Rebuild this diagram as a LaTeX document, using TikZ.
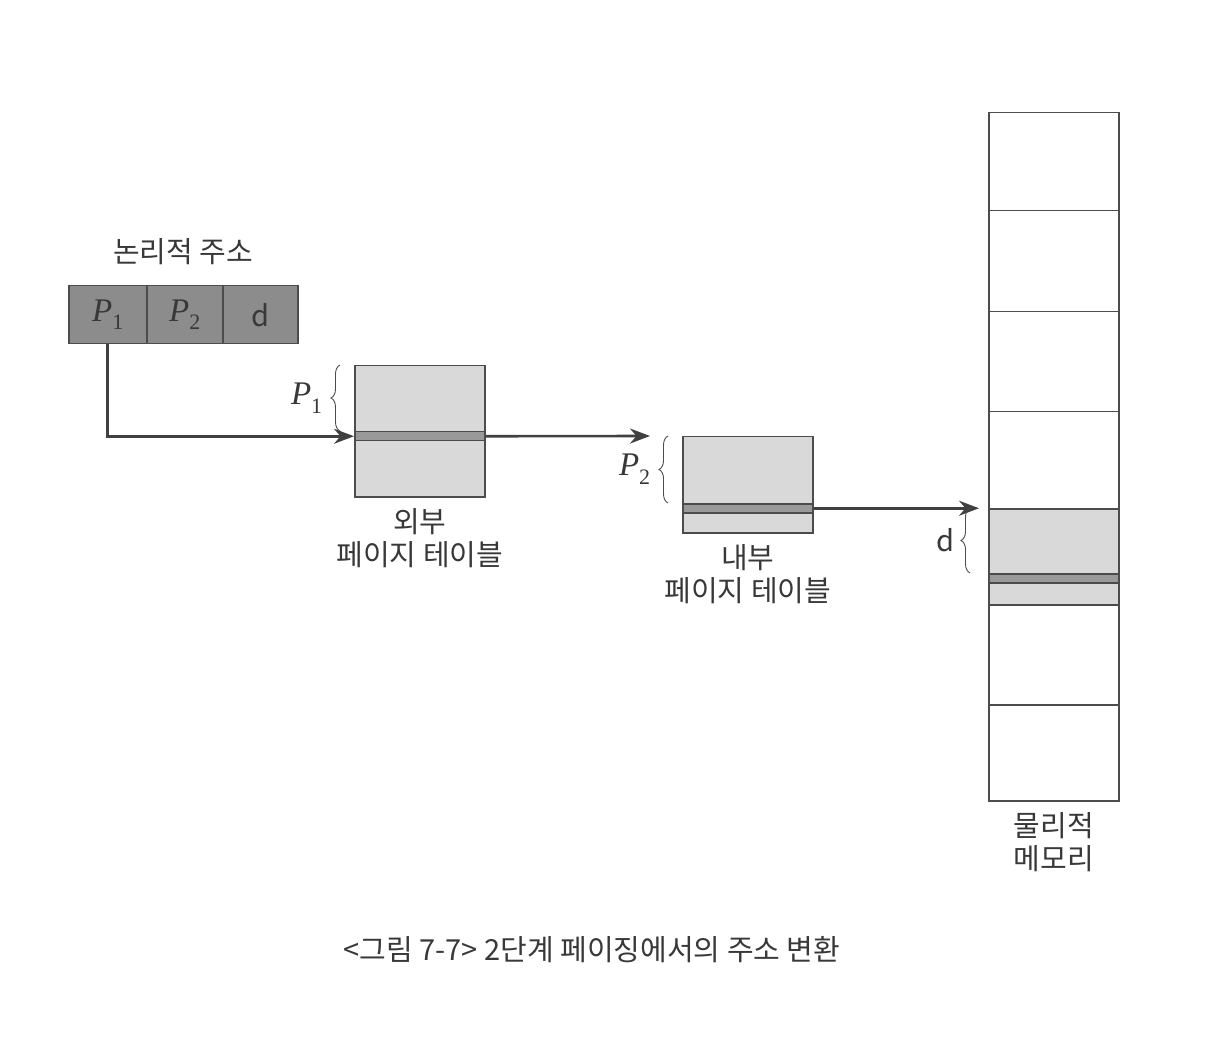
\documentclass[tikz,border=0pt]{standalone}
\usepackage{fontspec}
\setmainfont{Noto Sans CJK KR}
\newfontfamily\pfont{Liberation Serif}
\newcommand{\pidx}[1]{{\pfont\fontsize{33}{33}\selectfont\itshape P}\raisebox{-0.3em}{\pfont\fontsize{22}{22}\selectfont #1}}
\usetikzlibrary{arrows.meta,decorations.pathreplacing}
\begin{document}
\begin{tikzpicture}[x=1pt,y=-1pt]
	\tikzset{cell/.style={draw=black!70,line width=1.5pt,inner sep=0pt,anchor=north west},
	         lab/.style={font=\fontsize{29}{33}\selectfont,text=black!78,align=center},
	         ptr/.style={line width=2.6pt,draw=black!75,-{Stealth[length=20pt,width=15pt]}},
	         brc/.style={decorate,decoration={brace,amplitude=9pt},line width=0.9pt,draw=black!70}}
	\useasboundingbox (0,0) rectangle (1208,1048);
	\node[cell,fill=black!45,minimum width=78pt,minimum height=58pt,lab] (la1) at (68,285) {\pidx{1}};
	\node[cell,fill=black!45,minimum width=76pt,minimum height=58pt,lab] (la2) at (146,285) {\pidx{2}};
	\node[cell,fill=black!45,minimum width=75pt,minimum height=58pt,lab] (la3) at (222,285) {d};
	\node[lab] (latitle) at (183,252) {논리적 주소};
	\node[cell,fill=black!15,minimum width=130pt,minimum height=131pt] (ot) at (354,365) {};
	\node[cell,fill=black!40,minimum width=130pt,minimum height=9pt] (otrow) at (354,431) {};
	\node[lab,below=7pt] (otlab) at (ot.south) {외부\\페이지 테이블};
	\node[cell,fill=black!15,minimum width=130pt,minimum height=96pt] (it) at (682,436) {};
	\node[cell,fill=black!40,minimum width=130pt,minimum height=9pt] (itrow) at (682,503) {};
	\node[lab,below=7pt] (itlab) at (it.south) {내부\\페이지 테이블};
	\foreach \i/\y/\h in {0/112/98,1/210/101,2/311/100,3/411/97,4/508/96,5/604/100,6/704/96}
		\node[cell,fill=white,minimum width=130pt,minimum height=\h pt] (m\i) at (988,\y) {};
	\node[cell,fill=black!15,minimum width=130pt,minimum height=96pt] (m4) at (988,508) {};
	\node[cell,fill=black!40,minimum width=130pt,minimum height=9pt] (mrow) at (988,573) {};
	\node[lab,below=7pt] (mlab) at (m6.south) {물리적\\메모리};
	\coordinate (a2end) at (650,436);
	\draw[ptr] (la1.south) |- (otrow.west);
	\draw[ptr] (otrow.east) -- (a2end);
	\draw[ptr,shorten >=9pt] (itrow.east) -- (itrow.east -| m4.west);
	\draw[brc] ([xshift=-14pt]otrow.north west) -- ([xshift=-14pt]ot.north west)
		node[lab,midway,left=14pt] {\pidx{1}};
	\draw[brc] ([xshift=-14pt]itrow.north west) -- ([xshift=-14pt]it.north west)
		node[lab,midway,left=14pt] {\pidx{2}};
	\draw[brc] ([xshift=-18pt]mrow.north west) -- ([xshift=-18pt]m4.north west)
		node[lab,midway,left=12pt] {d};
	\node[lab] (caption) at (592,950) {<그림 7-7> 2단계 페이징에서의 주소 변환};
\end{tikzpicture}
\end{document}
